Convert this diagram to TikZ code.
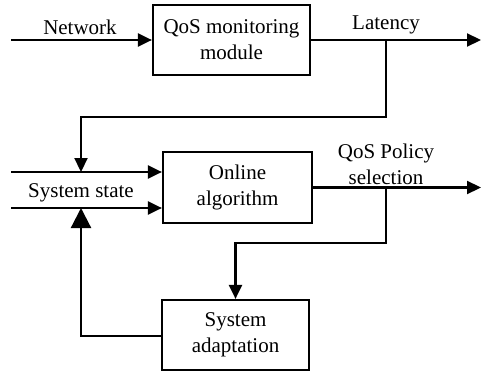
\documentclass[tikz,border=0pt]{standalone}
\usepackage{fontspec}
\setmainfont{Liberation Serif}
\usetikzlibrary{arrows.meta}
\begin{document}
\begin{tikzpicture}[x=1pt,y=-1pt,
  every node/.style={font=\fontsize{21}{26}\selectfont, inner sep=0pt},
  blockbox/.style={draw, line width=2.2pt, align=center},
  conn/.style={line width=2.2pt},
  arr/.style={conn, -{Triangle[length=14pt,width=13pt]}},
  bigarr/.style={conn, -{Triangle[length=20pt,width=20pt]}},
  lbl/.style={align=center}]
\useasboundingbox (0,0) rectangle (482,372);
% blocks
\node[blockbox, minimum width=157pt, minimum height=70pt] (qos) at (231.5,40) {QoS monitoring\\module};
\node[blockbox, minimum width=149pt, minimum height=71pt] (online) at (237.5,187.5) {Online\\algorithm};
\node[blockbox, minimum width=147pt, minimum height=70pt] (sysad) at (235.5,335) {System\\adaptation};
% coordinates
\coordinate (netin) at (11,40);
\coordinate (latend) at (481,40);
\coordinate (latb) at (386,40);
\coordinate (k1) at (81,117);
\coordinate (in1s) at (11,172);
\coordinate (j1) at (81,172);
\coordinate (in2s) at (11,208);
\coordinate (j2) at (81,208);
\coordinate (k2) at (81,336);
\coordinate (polend) at (481,187.5);
\coordinate (polb) at (386,187.5);
\coordinate (k3) at (235.5,243);
% labels
\node[lbl] (netlbl) at (80,27) {Network};
\node[lbl] (latlbl) at (386,25) {Latency};
\node[lbl] (sslbl) at (81,193) {System state};
\node[lbl] (pollbl) at (386,164) {QoS Policy\\selection};
% connectors
\draw[arr] (netin) -- (qos.west);
\draw[arr] (qos.east) -- (latend);
\draw[arr] (latb) |- (k1) -- (j1);
\draw[arr] (in1s) -- (online.west |- in1s);
\draw[arr] (in2s) -- (online.west |- in2s);
\draw[bigarr] (sysad.west |- k2) -- (k2) -- (j2);
\draw[arr] (online.east) -- (polend);
\draw[arr] (polb) |- (k3) -- (sysad.north);
\end{tikzpicture}
\end{document}
